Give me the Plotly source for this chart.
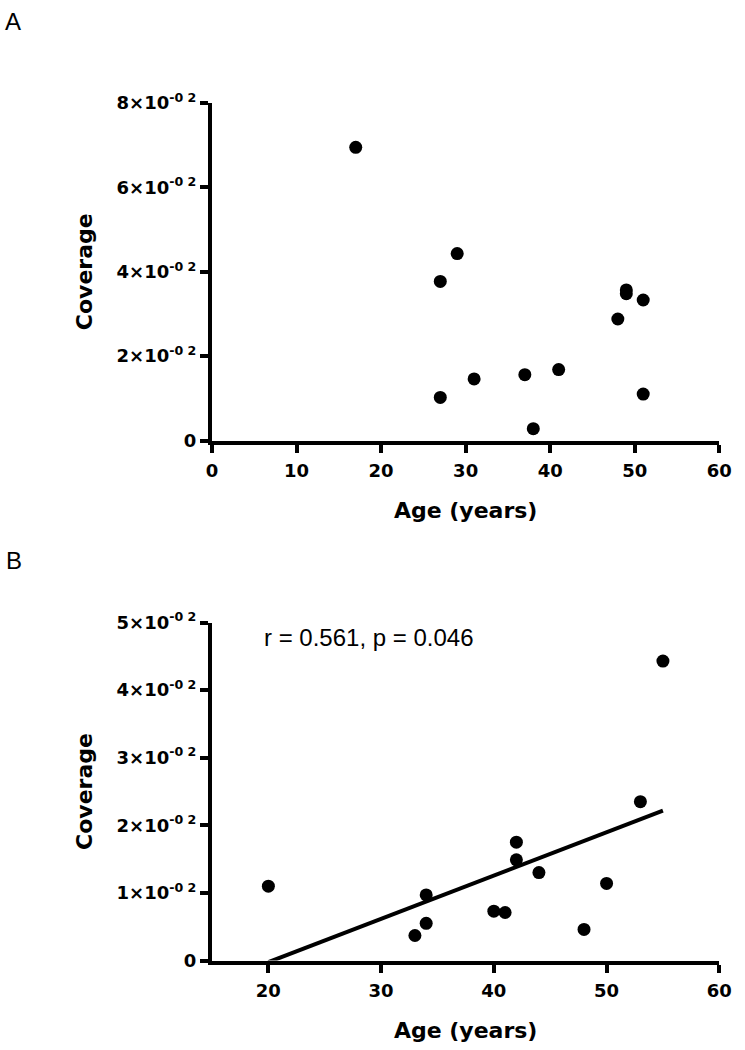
import numpy as np
import plotly.graph_objects as go

# Panel A data
age_a = [17, 27, 29, 27, 31, 37, 38, 41, 48, 49, 49, 51, 51]
cov_a = [0.0695, 0.0377, 0.0443, 0.0102, 0.0146, 0.0156, 0.0028, 0.0168,
         0.0288, 0.0357, 0.0348, 0.0333, 0.0110]

# Panel B data
age_b = [20, 33, 34, 34, 40, 41, 42, 42, 44, 48, 50, 53, 55]
cov_b = [0.0110, 0.0037, 0.0055, 0.0097, 0.0073, 0.0071, 0.0175, 0.0149,
         0.0130, 0.0046, 0.0114, 0.0235, 0.0443]

ticks_a = [0, 0.02, 0.04, 0.06, 0.08]
ticktext_a = ["0", "2×10<sup>-0 2</sup>", "4×10<sup>-0 2</sup>",
              "6×10<sup>-0 2</sup>", "8×10<sup>-0 2</sup>"]
ticks_b = [0, 0.01, 0.02, 0.03, 0.04, 0.05]
ticktext_b = ["0", "1×10<sup>-0 2</sup>", "2×10<sup>-0 2</sup>",
              "3×10<sup>-0 2</sup>", "4×10<sup>-0 2</sup>", "5×10<sup>-0 2</sup>"]
xticks_a = [0, 10, 20, 30, 40, 50, 60]
xticks_b = [20, 30, 40, 50, 60]
stat_text = "r = 0.561, p = 0.046"

# linear regression for panel B
slope, intercept = np.polyfit(age_b, cov_b, 1)
fit_x = [min(age_b), max(age_b)]
fit_y = [slope * v + intercept for v in fit_x]

W, H = 745, 1050
xdom = [212 / W, 719.3 / W]
ydom_a = [1 - 440.5 / H, 1 - 103 / H]
ydom_b = [1 - 960.5 / H, 1 - 622.5 / H]

tick_font = dict(family="DejaVu Sans", size=18, color="black", weight="bold")
title_font = dict(family="DejaVu Sans", size=22, color="black", weight="bold")

fig = go.Figure()
marker = dict(color="black", size=13)
fig.add_trace(go.Scatter(x=age_a, y=cov_a, mode="markers", marker=marker,
                         xaxis="x", yaxis="y", showlegend=False))
fig.add_trace(go.Scatter(x=age_b, y=cov_b, mode="markers", marker=marker,
                         xaxis="x2", yaxis="y2", showlegend=False))
fig.add_trace(go.Scatter(x=fit_x, y=fit_y, mode="lines",
                         line=dict(color="black", width=4),
                         xaxis="x2", yaxis="y2", showlegend=False))

axis_common = dict(showline=True, linecolor="black", linewidth=4,
                   ticks="outside", ticklen=8, tickwidth=4, tickcolor="black",
                   showgrid=False, zeroline=False, tickfont=tick_font,
                   automargin=False)

fig.update_layout(
    width=W, height=H,
    margin=dict(l=0, r=0, t=0, b=0),
    paper_bgcolor="white", plot_bgcolor="white",
    xaxis=dict(domain=xdom, anchor="y", range=[0, 60], tickvals=xticks_a,
               ticklabelstandoff=3,
               title=dict(text="Age (years)", font=title_font, standoff=24),
               **axis_common),
    yaxis=dict(domain=ydom_a, anchor="x", range=[0, 0.08], tickvals=ticks_a,
               ticktext=ticktext_a,
               title=dict(text="Coverage", font=title_font, standoff=19),
               **axis_common),
    xaxis2=dict(domain=xdom, anchor="y2", range=[15, 60], tickvals=xticks_b,
                ticklabelstandoff=3,
                title=dict(text="Age (years)", font=title_font, standoff=24),
                **axis_common),
    yaxis2=dict(domain=ydom_b, anchor="x2", range=[0, 0.05], tickvals=ticks_b,
                ticktext=ticktext_b,
                title=dict(text="Coverage", font=title_font, standoff=19),
                **axis_common),
    annotations=[
        dict(text="A", x=3 / W, y=1 - 22 / H, xref="paper", yref="paper",
             xanchor="left", yanchor="middle", showarrow=False,
             font=dict(family="Liberation Sans", size=24, color="black")),
        dict(text="B", x=4 / W, y=1 - 560 / H, xref="paper", yref="paper",
             xanchor="left", yanchor="middle", showarrow=False,
             font=dict(family="Liberation Sans", size=24, color="black")),
        dict(text=stat_text, x=262 / W, y=1 - 637 / H, xref="paper", yref="paper",
             xanchor="left", yanchor="middle", showarrow=False,
             font=dict(family="Liberation Sans", size=24, color="black")),
    ],
)

fig.write_html("out.html", config={"displayModeBar": False},
               post_script="document.body.style.margin='0';")
